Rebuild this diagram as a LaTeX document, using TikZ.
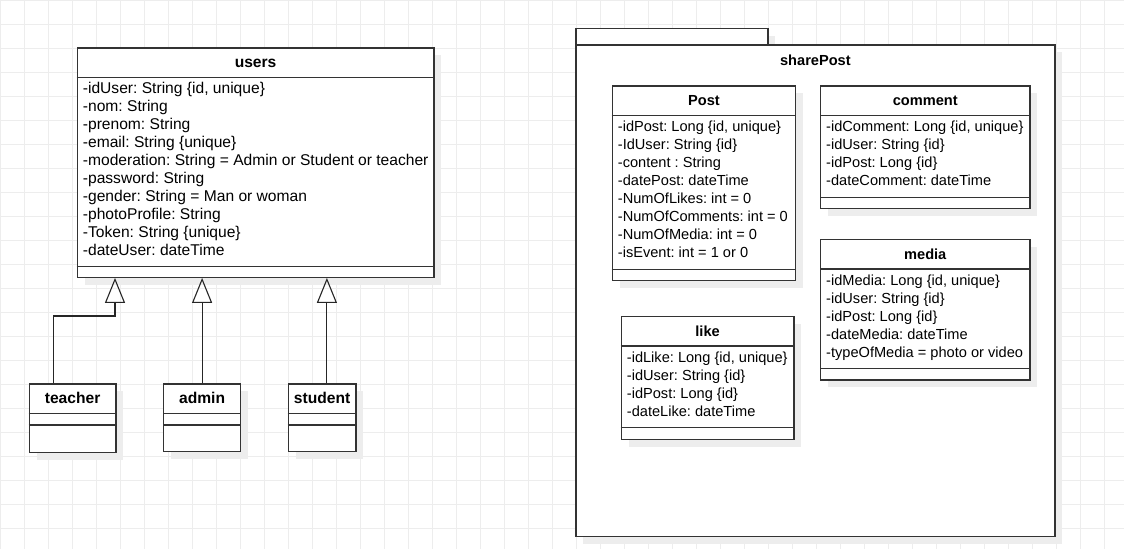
\documentclass[tikz,border=0pt]{standalone}
\usepackage{fontspec}
\setmainfont{Liberation Sans}
\frenchspacing
\usetikzlibrary{
  arrows.meta,
  calc,
}

\newcommand{\clsize}{15.6}
\tikzset{
  grid line/.style={draw=black!7, line width=0.8pt},
  shade box/.style={fill=black!7},
  classbox/.style={draw=black!80, fill=white, line width=1.2pt, inner sep=0pt},
  classline/.style={draw=black!80, line width=1.2pt},
  classtitle/.style={anchor=base, inner sep=0pt, font=\fontsize{\clsize}{18}\selectfont\bfseries},
  classattr/.style={anchor=north west, inner sep=0pt, align=left, font=\fontsize{\clsize}{18}\selectfont},
  gen/.style={draw=black!85, line width=1.1pt, -{Triangle[open, length=25pt, width=20pt]}},
}

% #1 name, #2 x, #3 y, #4 width, #5 height, #6 end of attributes, #7 title, #8 attributes
\newcommand{\umlclass}[8]{%
  \fill[shade box] (#2+8,#3+8) rectangle ++(#4,#5);
  \node[classbox, minimum width=#4pt, minimum height=#5pt, anchor=north west] (#1) at (#2,#3) {};
  \node[classtitle] (#1-name) at ([yshift=-20pt]#1.north) {#7};
  \draw[classline] ([yshift=-30pt]#1.north west) -- ([yshift=-30pt]#1.north east);
  \draw[classline] ([yshift=-#6pt]#1.north west) -- ([yshift=-#6pt]#1.north east);
  \node[classattr] (#1-attr) at ([xshift=6pt, yshift=-33.4pt]#1.north west) {\strut#8};
}

\begin{document}
\begin{tikzpicture}[x=1pt, y=-1pt]
\useasboundingbox (0,0) rectangle (1124,549);
\fill[white] (0,0) rectangle (1124,549);
\draw[grid line, step=24pt] (0,0) grid (1124,549);

% users and its subclasses
\umlclass{users}{76.7}{47.3}{356.6}{229.4}{219.4}{users}{%
  -idUser: String \{id, unique\}\\
  -nom: String\\
  -prenom: String\\
  -email: String \{unique\}\\
  -moderation: String = Admin or Student or teacher\\
  -password: String\\
  -gender: String = Man or woman\\
  -photoProfile: String\\
  -Token: String \{unique\}\\
  -dateUser: dateTime}
\umlclass{teacher}{28.7}{383.3}{86.6}{68.4}{41.7}{teacher}{}
\umlclass{admin}{163}{383.3}{77}{67.4}{41.7}{admin}{}
\umlclass{student}{287.7}{383.3}{67.6}{67.4}{41.7}{student}{}

\coordinate (teacher-bend) at (115,316);
\path ([xshift=-19.3pt]teacher.north) coordinate (teacher-top);
\path ([xshift=4.8pt]student.north) coordinate (student-top);
\draw[gen] (teacher-top) |- (teacher-bend) -- (teacher-bend |- users.south);
\draw[gen] (admin.north) -- (admin.north |- users.south);
\draw[gen] (student-top) -- (student-top |- users.south);

% package sharePost
\renewcommand{\clsize}{14.6}
\fill[shade box] (583.3,36) rectangle (775.3,52.3);
\fill[shade box] (583.3,52.3) rectangle (1062.3,543.7);
\node[classbox, minimum width=192pt, minimum height=16.3pt, anchor=north west] (tab) at (575.3,28) {};
\node[classbox, minimum width=479pt, minimum height=491.4pt, anchor=north west] (sharepost) at (575.3,44.3) {};
\node[classtitle] (sharepost-name) at ([yshift=-21pt]sharepost.north) {sharePost};

\umlclass{post}{611.7}{85.3}{183.3}{194.7}{184}{Post}{%
  -idPost: Long \{id, unique\}\\
  -IdUser: String \{id\}\\
  -content : String\\
  -datePost: dateTime\\
  -NumOfLikes: int = 0\\
  -NumOfComments: int = 0\\
  -NumOfMedia: int = 0\\
  -isEvent: int = 1 or 0}
\umlclass{comment}{820}{85.3}{209.3}{122.7}{112}{comment}{%
  -idComment: Long \{id, unique\}\\
  -idUser: String \{id\}\\
  -idPost: Long \{id\}\\
  -dateComment: dateTime}
\umlclass{media}{820}{239}{209.3}{140.3}{129.7}{media}{%
  -idMedia: Long \{id, unique\}\\
  -idUser: String \{id\}\\
  -idPost: Long \{id\}\\
  -dateMedia: dateTime\\
  -typeOfMedia = photo or video}
\umlclass{like}{620.7}{316}{172.6}{122.7}{111.7}{like}{%
  -idLike: Long \{id, unique\}\\
  -idUser: String \{id\}\\
  -idPost: Long \{id\}\\
  -dateLike: dateTime}
\end{tikzpicture}
\end{document}
